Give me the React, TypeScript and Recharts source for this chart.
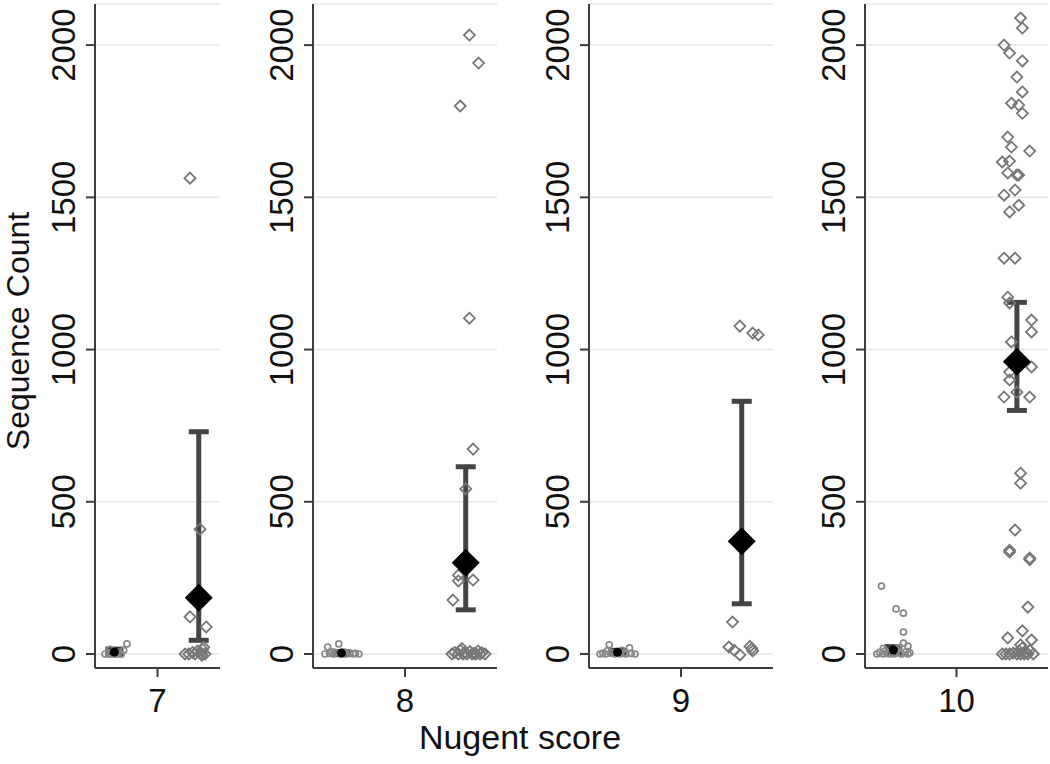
import React from 'react';
import { ScatterChart, Scatter, XAxis, YAxis, CartesianGrid, ErrorBar } from 'recharts';

const scores = [7, 8, 9, 10];
const yTicks = [0, 500, 1000, 1500, 2000];

// group centres relative to the score tick (low group left, high group right)
const LOW_POS = -0.345;
const HIGH_POS = 0.33;

// individual points [x, count]
const low7: [number, number][] = [[6.58, 0], [6.61, 3], [6.63, 0], [6.65, 8], [6.67, 0], [6.69, 5], [6.71, 0], [6.73, 12], [6.62, 15], [6.756, 33]];
const high7: [number, number][] = [[7.26, 1563], [7.34, 410], [7.26, 122], [7.39, 89], [7.22, 0], [7.25, 0], [7.28, 5], [7.3, 0], [7.32, 10], [7.35, 3], [7.36, 15], [7.38, 0], [7.37, 22], [7.355, -4]];

const low8: [number, number][] = [[7.565, 0], [7.58, 23], [7.59, 2], [7.61, 0], [7.62, 5], [7.64, 33], [7.65, 0], [7.66, 3], [7.68, 0], [7.7, 4], [7.72, 0], [7.73, 2], [7.75, 0], [7.6, 8], [7.67, 6]];
const high8: [number, number][] = [[8.35, 2033], [8.4, 1941], [8.3, 1800], [8.35, 1103], [8.37, 673], [8.33, 542], [8.29, 259], [8.29, 240], [8.37, 243], [8.26, 177], [8.255, 0], [8.27, 5], [8.29, 0], [8.3, 12], [8.315, 0], [8.326, 3], [8.337, 0], [8.353, 8], [8.364, 0], [8.375, 2], [8.386, 0], [8.397, 10], [8.408, 0], [8.418, 4], [8.435, 0], [8.31, 18]];

const low9: [number, number][] = [[8.56, 0], [8.575, 3], [8.59, 0], [8.61, 30], [8.62, 5], [8.64, 0], [8.66, 8], [8.67, 0], [8.69, 4], [8.7, 0], [8.72, 20], [8.73, 2], [8.75, 0], [8.6, 10], [8.68, 12]];
const high9: [number, number][] = [[9.32, 1077], [9.39, 1054], [9.42, 1048], [9.28, 105], [9.26, 23], [9.29, 12], [9.32, -3], [9.375, 25], [9.39, 10], [9.385, 18]];

const low10: [number, number][] = [[9.59, 223], [9.67, 148], [9.71, 134], [9.71, 72], [9.735, 26], [9.71, 36], [9.565, 0], [9.58, 5], [9.6, 0], [9.61, 10], [9.62, 2], [9.635, 0], [9.65, 8], [9.66, 0], [9.67, 15], [9.69, 3], [9.7, 0], [9.72, 6], [9.735, 0], [9.745, 4], [9.6, 18], [9.68, 20]];
const high10: [number, number][] = [
  [10.35, 2089], [10.36, 2056], [10.26, 2000], [10.29, 1974], [10.36, 1948], [10.33, 1895], [10.36, 1846], [10.3, 1809],
  [10.34, 1803], [10.36, 1776], [10.28, 1698], [10.3, 1665], [10.4, 1652], [10.25, 1616], [10.29, 1619], [10.28, 1580],
  [10.33, 1573], [10.34, 1573], [10.32, 1524], [10.26, 1507], [10.34, 1474], [10.29, 1452], [10.26, 1300], [10.32, 1300],
  [10.28, 1172], [10.29, 1153], [10.41, 1097], [10.41, 1058], [10.3, 1025], [10.41, 943], [10.29, 926], [10.29, 900],
  [10.26, 844], [10.33, 860], [10.4, 844], [10.35, 594], [10.35, 561], [10.32, 407], [10.29, 341], [10.29, 335],
  [10.4, 315], [10.4, 310], [10.39, 154], [10.28, 53], [10.36, 76], [10.41, 46],
  [10.25, 0], [10.27, 0], [10.29, 0], [10.31, 3], [10.33, 0], [10.34, 10], [10.35, 0], [10.36, 20], [10.37, 0],
  [10.38, 5], [10.39, 0], [10.4, 12], [10.42, 0], [10.35, 30],
];

const lowPoints = [low7, low8, low9, low10];
const highPoints = [high7, high8, high9, high10];

// group means with confidence intervals
const highMean = [185, 300, 370, 960];
const highLo = [45, 145, 165, 800];
const highHi = [730, 615, 830, 1155];
const lowMean = [6, 3, 6, 13];
const lowLo = [-3, -2, 0, 3];
const lowHi = [16, 8, 12, 24];

const FONT = '"Liberation Sans", Arial, sans-serif';
const AXIS = '#3c3c3c';

// panel layout: y-axis line x, right edge of plot
const layout = [
  { axisX: 95, right: 220 },
  { axisX: 313, right: 497 },
  { axisX: 589, right: 773 },
  { axisX: 865, right: 1048 },
];

const HollowDiamond = (props: any) => {
  const { cx, cy } = props;
  const r = 5.5;
  return (
    <path
      d={`M${cx},${cy - r}L${cx + r},${cy}L${cx},${cy + r}L${cx - r},${cy}Z`}
      fill="none"
      stroke="#777"
      strokeWidth={1.8}
    />
  );
};

const MeanDiamond = (props: any) => {
  const { cx, cy } = props;
  const r = 14;
  return <path d={`M${cx},${cy - r}L${cx + r},${cy}L${cx},${cy + r}L${cx - r},${cy}Z`} fill="#000" />;
};

const SmallCircle = (props: any) => <circle cx={props.cx} cy={props.cy} r={3} fill="none" stroke="#888" strokeWidth={1.7} />;

const MeanDot = (props: any) => <circle cx={props.cx} cy={props.cy} r={4.5} fill="#000" />;

const YTick = (props: any) => {
  const { x, y, payload } = props;
  return (
    <text x={x} y={y} transform={`rotate(-90 ${x} ${y})`} textAnchor="middle" fill="#111" fontSize={33} fontFamily={FONT}>
      {payload.value}
    </text>
  );
};

const Panel = ({ i }: { i: number }) => {
  const score = scores[i];
  const { axisX, right } = layout[i];
  const yWidth = i === 0 ? axisX : 60;
  const left = axisX - yWidth;
  const width = right - left + 2;
  const lows = lowPoints[i].map(([x, y]) => ({ x, y }));
  const highs = highPoints[i].map(([x, y]) => ({ x, y }));
  const highStat = [{ x: score + HIGH_POS, y: highMean[i], err: [highMean[i] - highLo[i], highHi[i] - highMean[i]] }];
  const lowStat = [{ x: score + LOW_POS, y: lowMean[i], err: [lowMean[i] - lowLo[i], lowHi[i] - lowMean[i]] }];

  return (
    <div style={{ position: 'absolute', left, top: 0 }}>
      <ScatterChart width={width} height={764} margin={{ top: 4, right: 2, bottom: 46, left: 0 }}>
        <CartesianGrid horizontal vertical={false} stroke="#e6e6e6" strokeWidth={1.5} />
        <XAxis
          type="number"
          dataKey="x"
          domain={[score - 0.5, score + 0.5]}
          ticks={[score]}
          allowDataOverflow
          height={50}
          axisLine={{ stroke: AXIS, strokeWidth: 2 }}
          tickLine={{ stroke: AXIS, strokeWidth: 2 }}
          tickSize={9}
          tickMargin={12}
          tick={{ fill: '#111', fontSize: 33, fontFamily: FONT }}
        />
        <YAxis
          type="number"
          dataKey="y"
          domain={[-46, 2135]}
          ticks={yTicks}
          allowDataOverflow
          width={yWidth}
          axisLine={{ stroke: AXIS, strokeWidth: 2 }}
          tickLine={{ stroke: AXIS, strokeWidth: 2 }}
          tickSize={9}
          tickMargin={11}
          tick={<YTick />}
          label={
            i === 0
              ? {
                  content: (p: any) => {
                    const cy = p.viewBox.y + p.viewBox.height / 2 - 5;
                    return (
                      <text x={29} y={cy} transform={`rotate(-90 29 ${cy})`} textAnchor="middle" fill="#111" fontSize={32} fontFamily={FONT}>
                        Sequence Count
                      </text>
                    );
                  },
                }
              : undefined
          }
        />
        <Scatter data={lows} shape={<SmallCircle />} isAnimationActive={false} />
        <Scatter data={highs} shape={<HollowDiamond />} isAnimationActive={false} />
        <Scatter data={lowStat} shape={<MeanDot />} isAnimationActive={false}>
          <ErrorBar dataKey="err" direction="y" width={9} strokeWidth={5} stroke="#3a3a3a" />
        </Scatter>
        <Scatter data={highStat} shape={<MeanDiamond />} isAnimationActive={false}>
          <ErrorBar dataKey="err" direction="y" width={10} strokeWidth={5} stroke="#444" />
        </Scatter>
      </ScatterChart>
    </div>
  );
};

const App: React.FC = () => {
  return (
    <div style={{ position: 'absolute', left: 0, top: 0, width: 1050, height: 764, background: '#fff', fontFamily: FONT }}>
      {scores.map((s, i) => (
        <Panel key={s} i={i} />
      ))}
      <div style={{ position: 'absolute', left: 0, width: 1040, top: 718, textAlign: 'center', fontSize: 34, color: '#111' }}>
        Nugent score
      </div>
    </div>
  );
};

export default App;
